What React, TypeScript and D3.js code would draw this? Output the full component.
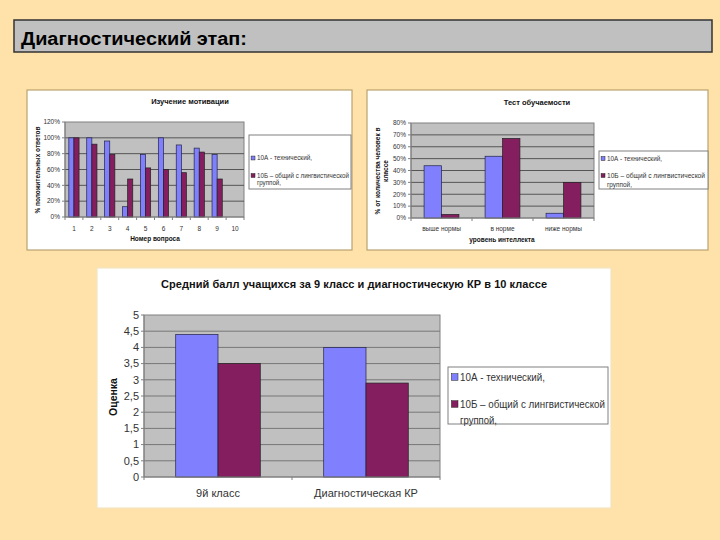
import React from 'react';
import * as d3 from 'd3';

// ---------- DATA ----------
const pageTitle = 'Диагностический этап:';
const seriesNames = ['10А - технический,', '10Б  – общий с лингвистической', 'группой,'];

const motivationTitle = 'Изучение мотивации';
const motivationCategories = ['1', '2', '3', '4', '5', '6', '7', '8', '9', '10'];
const motivationA: (number | null)[] = [100, 100, 96, 13, 79, 100, 91, 87, 79, null];
const motivationB: (number | null)[] = [100, 92, 79, 48, 62, 60, 56, 82, 48, null];
const motivationTicks = [0, 20, 40, 60, 80, 100, 120];
const motivationXTitle = 'Номер вопроса';
const motivationYTitle = ['% положительных ответов'];

const learnTitle = 'Тест обучаемости';
const learnCategories = ['выше нормы', 'в норме', 'ниже нормы'];
const learnA: (number | null)[] = [44, 52, 4];
const learnB: (number | null)[] = [3, 67, 30];
const learnTicks = [0, 10, 20, 30, 40, 50, 60, 70, 80];
const learnXTitle = 'уровень интеллекта';
const learnYTitle = ['% от количества человек в', 'классе'];

const scoreTitle = 'Средний балл учащихся за 9 класс и диагностическую КР в 10 классе';
const scoreCategories = ['9й класс', 'Диагностическая КР'];
const scoreA: (number | null)[] = [4.4, 4.0];
const scoreB: (number | null)[] = [3.5, 2.9];
const scoreTicks = [0, 0.5, 1, 1.5, 2, 2.5, 3, 3.5, 4, 4.5, 5];
const scoreYTitle = ['Оценка'];

// ---------- STYLE ----------
const COLOR_A = '#8080FF';
const COLOR_B = '#841E5E';
const PLOT_BG = '#C0C0C0';
const FONT = '"Liberation Sans", Arial, sans-serif';

type ChartProps = {
  panel: [number, number, number, number];
  plot: [number, number, number, number];
  categories: string[];
  a: (number | null)[];
  b: (number | null)[];
  ticks: number[];
  fmt: (v: number) => string;
  title: string;
  titleX: number;
  titleY: number;
  titleSize: number;
  titleLength?: number;
  xTitle?: string;
  xTitleX?: number;
  xTitleY?: number;
  yTitle: string[];
  yTitleX: number;
  yTitleCY: number;
  yTitleSize: number;
  fs: number;
  xLabelY: number;
  legend: [number, number, number, number];
  legendRows: number[];
  legendFs: number;
  legendTextX: number;
  legendLengths: number[];
  gridColor: string;
  panelStroke: string;
};

function BarChart(p: ChartProps) {
  const [x0, y0, x1, y1] = p.plot;
  const xBand = d3.scaleBand<string>().domain(p.categories).range([x0, x1]).padding(0);
  const sub = d3.scaleBand<string>().domain(['A', 'B']).range([0, xBand.bandwidth()]).paddingInner(0).paddingOuter(0.75);
  const yMax = p.ticks[p.ticks.length - 1];
  const y = d3.scaleLinear().domain([0, yMax]).range([y1, y0]);
  const [lx0, ly0, lx1, ly1] = p.legend;
  const mk = p.legendFs * 0.6;
  const markerX = p.legendTextX - mk - 2;
  return (
    <g fontFamily={FONT}>
      <rect x={p.panel[0]} y={p.panel[1]} width={p.panel[2] - p.panel[0]} height={p.panel[3] - p.panel[1]} fill="#fff" stroke={p.panelStroke} strokeWidth={1.2} />
      <text x={p.titleX} y={p.titleY} textAnchor="middle" fontWeight="bold" fontSize={p.titleSize} fill="#111"
        textLength={p.titleLength} lengthAdjust={p.titleLength ? 'spacing' : undefined}>{p.title}</text>
      <rect x={x0} y={y0} width={x1 - x0} height={y1 - y0} fill={PLOT_BG} stroke="#808080" strokeWidth={1} />
      {p.ticks.filter(t => t > 0 && t < yMax).map(t => (
        <line key={'g' + t} x1={x0} x2={x1} y1={y(t)} y2={y(t)} stroke={p.gridColor} strokeWidth={1} />
      ))}
      {p.categories.map((c, i) => (
        <g key={c}>
          {p.a[i] != null && (
            <rect x={(xBand(c) as number) + (sub('A') as number)} y={y(p.a[i] as number)} width={sub.bandwidth()} height={y1 - y(p.a[i] as number)} fill={COLOR_A} stroke="#222244" strokeWidth={0.7} />
          )}
          {p.b[i] != null && (
            <rect x={(xBand(c) as number) + (sub('B') as number)} y={y(p.b[i] as number)} width={sub.bandwidth()} height={y1 - y(p.b[i] as number)} fill={COLOR_B} stroke="#222222" strokeWidth={0.7} />
          )}
        </g>
      ))}
      <line x1={x0} x2={x0} y1={y0} y2={y1} stroke="#808080" />
      <line x1={x0} x2={x1} y1={y1} y2={y1} stroke="#808080" />
      {p.ticks.map(t => (
        <g key={'t' + t}>
          <line x1={x0 - 3} x2={x0} y1={y(t)} y2={y(t)} stroke="#808080" />
          <text x={x0 - 5} y={y(t) + p.fs * 0.35} textAnchor="end" fontSize={p.fs} fill="#333">{p.fmt(t)}</text>
        </g>
      ))}
      {p.categories.map(c => (
        <line key={'xt' + c} x1={xBand(c) as number} x2={xBand(c) as number} y1={y1} y2={y1 + 3} stroke="#808080" />
      ))}
      <line x1={x1} x2={x1} y1={y1} y2={y1 + 3} stroke="#808080" />
      {p.categories.map(c => (
        <text key={'xl' + c} x={(xBand(c) as number) + xBand.bandwidth() / 2} y={p.xLabelY} textAnchor="middle" fontSize={p.fs} fill="#333">{c}</text>
      ))}
      {p.xTitle && (
        <text x={p.xTitleX} y={p.xTitleY} textAnchor="middle" fontWeight="bold" fontSize={p.fs} fill="#111">{p.xTitle}</text>
      )}
      <g transform={`translate(${p.yTitleX},${p.yTitleCY}) rotate(-90)`}>
        {p.yTitle.map((line, i) => (
          <text key={line} x={0} y={(i - (p.yTitle.length - 1) / 2) * p.yTitleSize * 1.15 + p.yTitleSize * 0.35} textAnchor="middle" fontWeight="bold" fontSize={p.yTitleSize} fill="#111">{line}</text>
        ))}
      </g>
      <rect x={lx0} y={ly0} width={lx1 - lx0} height={ly1 - ly0} fill="#fff" stroke="#808080" strokeWidth={1} />
      <rect x={markerX} y={p.legendRows[0] - mk / 2} width={mk} height={mk} fill={COLOR_A} stroke="#222" strokeWidth={0.5} />
      <rect x={markerX} y={p.legendRows[1] - mk / 2} width={mk} height={mk} fill={COLOR_B} stroke="#222" strokeWidth={0.5} />
      {seriesNames.map((s, i) => (
        <text key={s} x={p.legendTextX} y={p.legendRows[i] + p.legendFs * 0.35} fontSize={p.legendFs} fill="#333"
          textLength={p.legendLengths[i]} lengthAdjust="spacingAndGlyphs">{s}</text>
      ))}
    </g>
  );
}

const pct = (v: number) => `${v}%`;
const comma = (v: number) => String(v).replace('.', ',');

export default function App() {
  return (
    <svg width={720} height={540} style={{ position: 'absolute', left: 0, top: 0 }}>
      <rect x={0} y={0} width={720} height={540} fill="#FFE2AA" />
      <rect x={14} y={20} width={698} height={32} fill="#C0C0C0" stroke="#333" strokeWidth={1.5} />
      <text x={21} y={45} fontFamily={FONT} fontWeight="bold" fontSize={18} fill="#000" textLength={226} lengthAdjust="spacingAndGlyphs">{pageTitle}</text>

      <BarChart
        panel={[27, 90, 352, 250]}
        plot={[65, 122, 244, 217]}
        categories={motivationCategories}
        a={motivationA}
        b={motivationB}
        ticks={motivationTicks}
        fmt={pct}
        title={motivationTitle}
        titleX={190}
        titleY={103.5}
        titleSize={7.5}
        xTitle={motivationXTitle}
        xTitleX={155}
        xTitleY={241}
        yTitle={motivationYTitle}
        yTitleX={38}
        yTitleCY={170}
        yTitleSize={6.5}
        fs={6.5}
        xLabelY={230.5}
        legend={[249, 135, 351, 189]}
        legendRows={[158, 175.5, 182.5]}
        legendFs={6.5}
        legendTextX={257}
        legendLengths={[55, 92, 24]}
        gridColor="#555"
        panelStroke="#B9A36E"
      />

      <BarChart
        panel={[367, 90, 708, 250]}
        plot={[411, 123, 594, 218]}
        categories={learnCategories}
        a={learnA}
        b={learnB}
        ticks={learnTicks}
        fmt={pct}
        title={learnTitle}
        titleX={537}
        titleY={105}
        titleSize={7.5}
        xTitle={learnXTitle}
        xTitleX={502}
        xTitleY={242}
        yTitle={learnYTitle}
        yTitleX={381.5}
        yTitleCY={171}
        yTitleSize={6.5}
        fs={6.5}
        xLabelY={230.5}
        legend={[599, 151, 708, 189]}
        legendRows={[158.5, 175.5, 184.5]}
        legendFs={6.5}
        legendTextX={607}
        legendLengths={[55, 98, 25]}
        gridColor="#555"
        panelStroke="#B9A36E"
      />

      <BarChart
        panel={[97, 268, 611, 508]}
        plot={[144, 315, 440, 477]}
        categories={scoreCategories}
        a={scoreA}
        b={scoreB}
        ticks={scoreTicks}
        fmt={comma}
        title={scoreTitle}
        titleX={354}
        titleY={288}
        titleSize={11}
        titleLength={386}
        yTitle={scoreYTitle}
        yTitleX={113}
        yTitleCY={397}
        yTitleSize={10.5}
        fs={11}
        xLabelY={497}
        legend={[448, 367, 608, 424]}
        legendRows={[377, 404, 420]}
        legendFs={11}
        legendTextX={460}
        legendLengths={[85, 145, 37]}
        gridColor="#777"
        panelStroke="#F3E4C4"
      />
    </svg>
  );
}
